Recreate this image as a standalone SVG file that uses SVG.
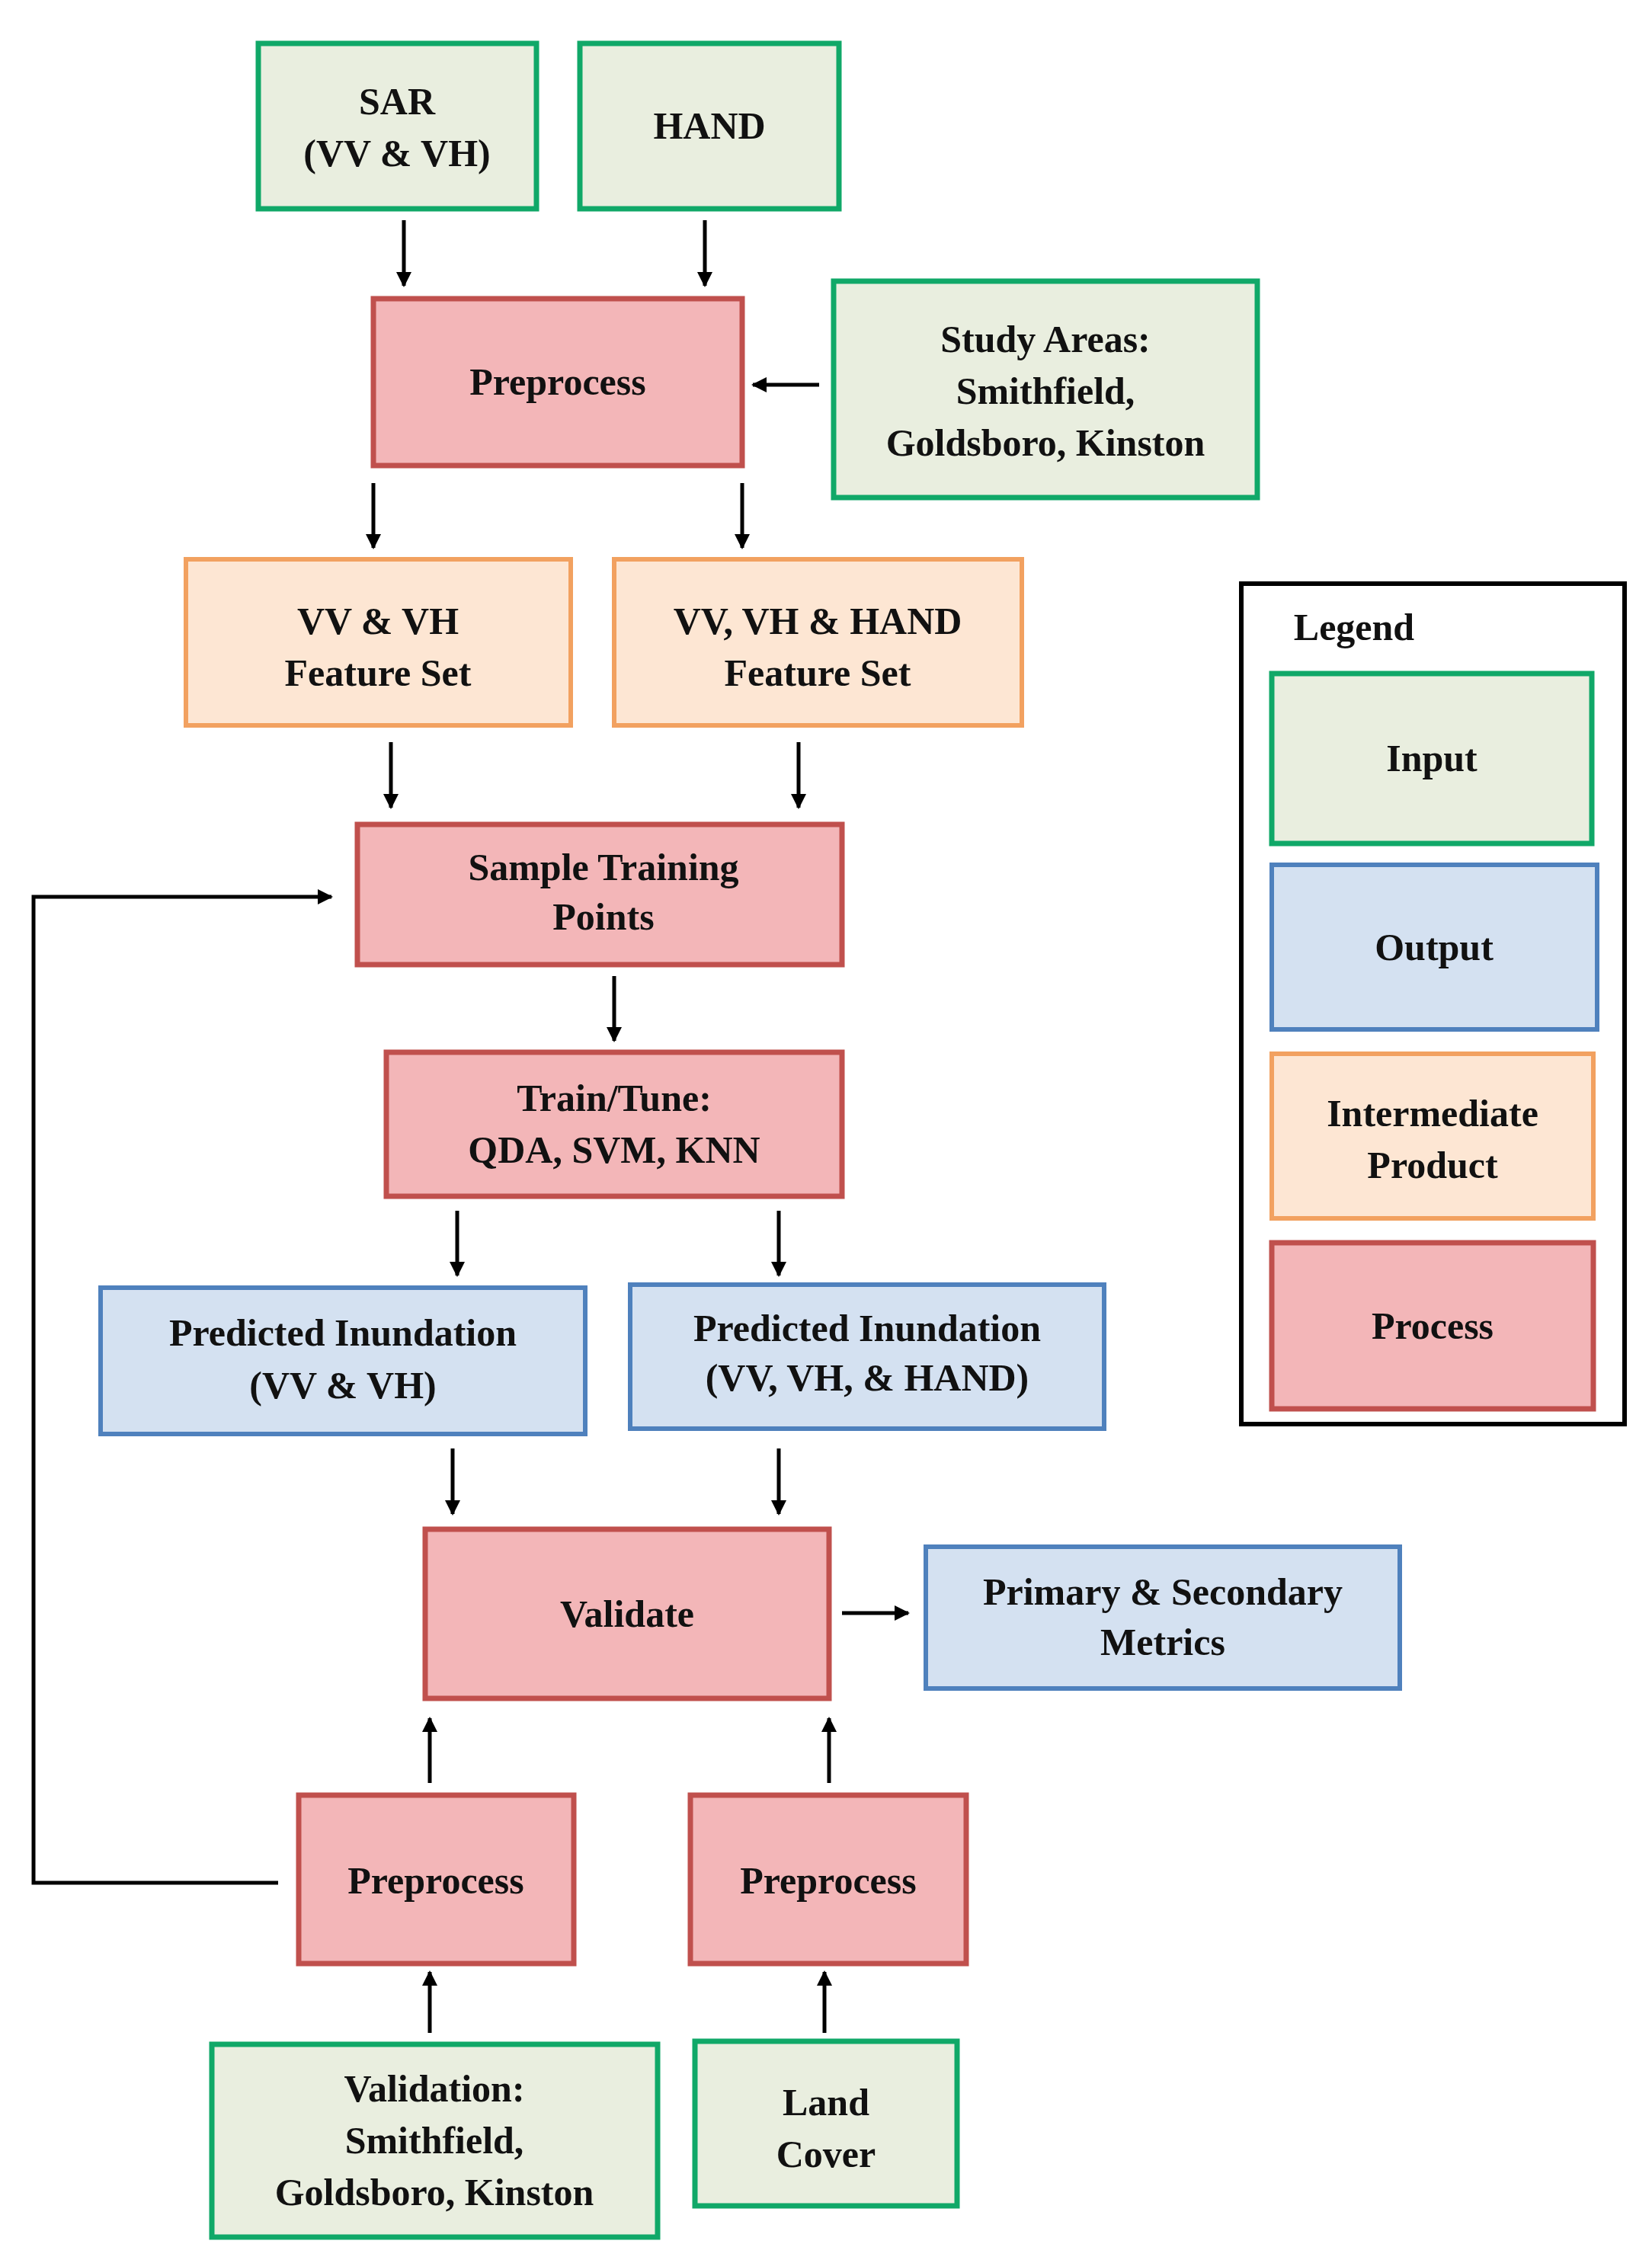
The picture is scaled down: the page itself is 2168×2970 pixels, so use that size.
<svg xmlns="http://www.w3.org/2000/svg" width="2168" height="2970" viewBox="0 0 2168 2970">
<defs>
<style>
text{font-family:"Liberation Serif","Times New Roman",serif;font-weight:bold;font-size:50px;text-anchor:middle;fill:#111}
.in{fill:#e9eedf;stroke:#10a868;stroke-width:7}
.pr{fill:#f3b6b8;stroke:#c0504d;stroke-width:7}
.im{fill:#fde6d3;stroke:#f2a160;stroke-width:6}
.out{fill:#d4e1f1;stroke:#4f81bd;stroke-width:6}
.c{stroke:#000;stroke-width:5;fill:none}
</style>
<marker id="a" viewBox="0 0 10 10" refX="9" refY="5" markerWidth="4" markerHeight="4" orient="auto"><path d="M0,0L10,5L0,10z" fill="#000"/></marker>
</defs>
<rect width="2168" height="2970" fill="#fff"/>
<g id="sar"><rect class="in" x="339" y="57" width="365" height="217"/><text x="521" y="150">SAR</text><text x="521" y="218">(VV &amp; VH)</text></g>
<g id="hand"><rect class="in" x="761" y="57" width="340" height="217"/><text x="931" y="182">HAND</text></g>
<g id="pre1"><rect class="pr" x="490" y="392" width="484" height="219"/><text x="732" y="518">Preprocess</text></g>
<g id="study"><rect class="in" x="1094" y="369" width="556" height="284"/><text x="1372" y="462">Study Areas:</text><text x="1372" y="530">Smithfield,</text><text x="1372" y="598">Goldsboro, Kinston</text></g>
<g id="fs1"><rect class="im" x="244" y="734" width="505" height="218"/><text x="496" y="832">VV &amp; VH</text><text x="496" y="900">Feature Set</text></g>
<g id="fs2"><rect class="im" x="806" y="734" width="535" height="218"/><text x="1073" y="832">VV, VH &amp; HAND</text><text x="1073" y="900">Feature Set</text></g>
<g id="legend"><rect x="1629" y="766" width="503" height="1103" fill="#fff" stroke="#000" stroke-width="6"/><text x="1777" y="840">Legend</text>
<rect class="in" x="1669" y="884" width="420" height="223"/><text x="1879" y="1012">Input</text>
<rect class="out" x="1669" y="1135" width="427" height="216"/><text x="1882" y="1260">Output</text>
<rect class="im" x="1669" y="1383" width="422" height="216"/><text x="1880" y="1478">Intermediate</text><text x="1880" y="1546">Product</text>
<rect class="pr" x="1669" y="1631" width="422" height="218"/><text x="1880" y="1757">Process</text></g>
<g id="sample"><rect class="pr" x="469" y="1082" width="636" height="184"/><text x="792" y="1155">Sample Training</text><text x="792" y="1220">Points</text></g>
<g id="train"><rect class="pr" x="507" y="1381" width="598" height="189"/><text x="806" y="1458">Train/Tune:</text><text x="806" y="1526">QDA, SVM, KNN</text></g>
<g id="pred1"><rect class="out" x="132" y="1690" width="636" height="192"/><text x="450" y="1766">Predicted Inundation</text><text x="450" y="1835">(VV &amp; VH)</text></g>
<g id="pred2"><rect class="out" x="827" y="1686" width="622" height="189"/><text x="1138" y="1760">Predicted Inundation</text><text x="1138" y="1825">(VV, VH, &amp; HAND)</text></g>
<g id="validate"><rect class="pr" x="558" y="2007" width="530" height="222"/><text x="823" y="2135">Validate</text></g>
<g id="metrics"><rect class="out" x="1215" y="2030" width="622" height="186"/><text x="1526" y="2106">Primary &amp; Secondary</text><text x="1526" y="2172">Metrics</text></g>
<g id="pre2"><rect class="pr" x="392" y="2356" width="361" height="221"/><text x="572" y="2485">Preprocess</text></g>
<g id="pre3"><rect class="pr" x="906" y="2356" width="362" height="221"/><text x="1087" y="2485">Preprocess</text></g>
<g id="valid"><rect class="in" x="278" y="2683" width="585" height="253"/><text x="570" y="2758">Validation:</text><text x="570" y="2826">Smithfield,</text><text x="570" y="2894">Goldsboro, Kinston</text></g>
<g id="land"><rect class="in" x="912" y="2679" width="344" height="216"/><text x="1084" y="2776">Land</text><text x="1084" y="2844">Cover</text></g>
<g id="connectors" marker-end="url(#a)">
<path class="c" d="M530,289V375" marker-end="url(#a)"/>
<path class="c" d="M925,289V375" marker-end="url(#a)"/>
<path class="c" d="M1075,505H988" marker-end="url(#a)"/>
<path class="c" d="M490,634V719" marker-end="url(#a)"/>
<path class="c" d="M974,634V719" marker-end="url(#a)"/>
<path class="c" d="M513,974V1060" marker-end="url(#a)"/>
<path class="c" d="M1048,974V1060" marker-end="url(#a)"/>
<path class="c" d="M806,1281V1366" marker-end="url(#a)"/>
<path class="c" d="M600,1589V1674" marker-end="url(#a)"/>
<path class="c" d="M1022,1589V1674" marker-end="url(#a)"/>
<path class="c" d="M594,1901V1987" marker-end="url(#a)"/>
<path class="c" d="M1022,1901V1987" marker-end="url(#a)"/>
<path class="c" d="M1105,2117H1192" marker-end="url(#a)"/>
<path class="c" d="M564,2340V2255" marker-end="url(#a)"/>
<path class="c" d="M1088,2340V2255" marker-end="url(#a)"/>
<path class="c" d="M564,2668V2588" marker-end="url(#a)"/>
<path class="c" d="M1082,2668V2588" marker-end="url(#a)"/>
<path class="c" d="M365,2471H44V1177H435" marker-end="url(#a)"/>
</g>
</svg>
